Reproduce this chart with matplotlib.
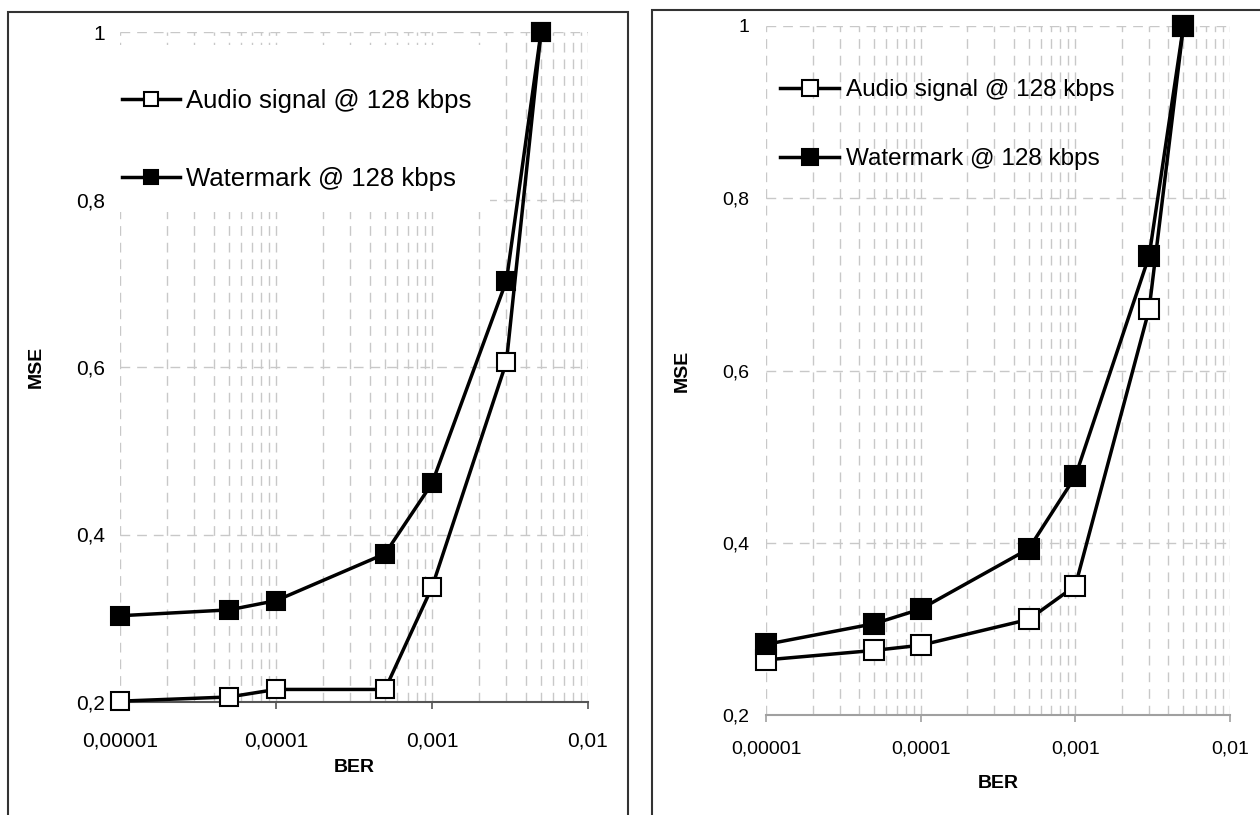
import matplotlib
matplotlib.use('Agg')
import matplotlib.pyplot as plt
from matplotlib.patches import Rectangle
from matplotlib.ticker import FixedLocator, FixedFormatter, LogLocator, NullFormatter

# данные (BER по оси X, MSE по оси Y)
ber = [0.00001, 0.00005, 0.0001, 0.0005, 0.001, 0.003, 0.005]

left_audio = [0.201, 0.206, 0.215, 0.215, 0.337, 0.606, 1.0]
left_watermark = [0.303, 0.310, 0.321, 0.377, 0.461, 0.703, 1.0]

right_audio = [0.264, 0.275, 0.281, 0.311, 0.350, 0.671, 1.0]
right_watermark = [0.282, 0.306, 0.323, 0.393, 0.477, 0.733, 1.0]

series_names = ['Audio signal @ 128 kbps', 'Watermark @ 128 kbps']

x_ticks = [0.00001, 0.0001, 0.001, 0.01]
x_tick_labels = ['0,00001', '0,0001', '0,001', '0,01']
y_ticks = [0.2, 0.4, 0.6, 0.8, 1.0]
y_tick_labels = ['0,2', '0,4', '0,6', '0,8', '1']

plt.rcParams['font.family'] = ['Liberation Sans', 'DejaVu Sans']

W, H = 1260, 815
fig = plt.figure(figsize=(W / 100, H / 100), dpi=100)

# рамки вокруг двух диаграмм
fig.add_artist(Rectangle((8 / W, -0.05), 620 / W, 1.05 - 12 / H, transform=fig.transFigure,
                         fill=False, ec='#333333', lw=1.5))
fig.add_artist(Rectangle((652 / W, -0.05), 0.6, 1.05 - 10 / H, transform=fig.transFigure,
                         fill=False, ec='#333333', lw=1.5))


def panel(rect, audio, watermark, tick_fs, leg_fs, ms, tpad, ypad, leg_anchor, leg_space,
          leg_len, label_x, label_y, spine_color, cover=None):
    ax = fig.add_axes(rect)
    ax.set_xscale('log')
    ax.set_xlim(1e-5, 1e-2)
    ax.set_ylim(0.2, 1.0)
    ax.set_axisbelow(True)

    ax.xaxis.set_major_locator(FixedLocator(x_ticks))
    ax.xaxis.set_major_formatter(FixedFormatter(x_tick_labels))
    ax.xaxis.set_minor_locator(LogLocator(base=10, subs=range(2, 10)))
    ax.xaxis.set_minor_formatter(NullFormatter())
    ax.yaxis.set_major_locator(FixedLocator(y_ticks))
    ax.yaxis.set_major_formatter(FixedFormatter(y_tick_labels))

    grid_kw = dict(color='#c8c8c8', lw=1, linestyle=(0, (7, 5)))
    ax.grid(True, which='major', axis='both', **grid_kw)
    ax.grid(True, which='minor', axis='x', **grid_kw)

    for s in ['left', 'right', 'top']:
        ax.spines[s].set_visible(False)
    ax.spines['bottom'].set_color(spine_color)
    ax.spines['bottom'].set_linewidth(1.5)

    ax.tick_params(axis='x', which='major', direction='out', length=5, width=1.2,
                   color=spine_color, labelsize=tick_fs, pad=tpad)
    ax.tick_params(axis='x', which='minor', length=0)
    ax.tick_params(axis='y', length=0, labelsize=tick_fs, pad=ypad)

    # белый фон под легендой (закрывает сетку)
    if cover is not None:
        ax.add_patch(Rectangle((cover[0], cover[1]), cover[2], cover[3], transform=ax.transAxes,
                               fc='white', ec='none', zorder=1))

    ax.plot(ber, audio, color='black', lw=2.5, marker='s', ms=ms, mfc='white', mec='black',
            mew=1.5, label=series_names[0], clip_on=False, zorder=3)
    ax.plot(ber, watermark, color='black', lw=2.5, marker='s', ms=ms, mfc='black', mec='black',
            mew=1.5, label=series_names[1], clip_on=False, zorder=3)

    ax.legend(loc='upper left', bbox_to_anchor=leg_anchor, frameon=False, fontsize=leg_fs,
              borderpad=0, borderaxespad=0, labelspacing=leg_space, handlelength=leg_len,
              handletextpad=0.25, markerscale=0.85)

    ax.set_xlabel('BER', fontsize=14, fontweight='bold')
    ax.set_ylabel('MSE', fontsize=14, fontweight='bold')
    ax.xaxis.set_label_coords(0.5, label_y)
    ax.yaxis.set_label_coords(label_x, 0.5)
    return ax


# левая диаграмма
panel([120 / W, 1 - 702 / H, 468 / W, 670 / H], left_audio, left_watermark,
      tick_fs=15, leg_fs=18.5, ms=12.5, tpad=16, ypad=11, leg_anchor=(0.004, 0.9154),
      leg_space=2.11, leg_len=2.25, label_x=-0.160, label_y=-0.085, spine_color='#555555',
      cover=(0.0, 0.731, 0.79, 0.25))

# правая диаграмма
panel([766 / W, 1 - 715 / H, 464 / W, 689 / H], right_audio, right_watermark,
      tick_fs=14, leg_fs=17.5, ms=14, tpad=13, ypad=12, leg_anchor=(0.030, 0.9230),
      leg_space=1.95, leg_len=2.45, label_x=-0.1616, label_y=-0.087, spine_color='#a0a0a0')

fig.savefig('out.png', dpi=100)
